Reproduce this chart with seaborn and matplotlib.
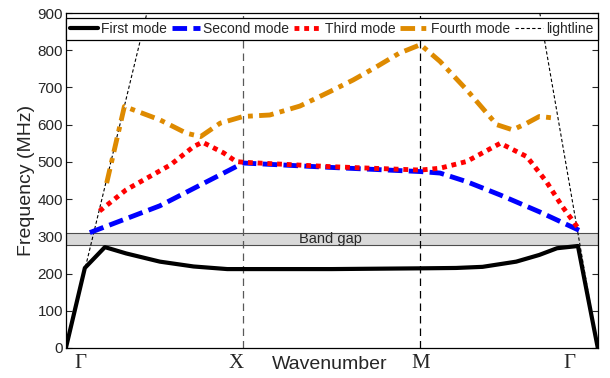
import numpy as np
import matplotlib
matplotlib.use("Agg")
import matplotlib.pyplot as plt
import seaborn as sns

# Dados (x: 0=Gamma, 1=X, 2=M, 3=Gamma)
x_primeiro = [0, 0.107, 0.22, 0.34, 0.53, 0.72, 0.91, 1.0, 1.25, 1.5, 1.75, 2.0, 2.2, 2.35, 2.54, 2.67, 2.77, 2.888, 3.0]
f_primeiro = [0, 215, 271, 254, 232, 219, 212, 212, 212, 212, 213, 214, 215, 218, 232, 250, 268, 274, 0]

x_segundo = [0.135, 0.53, 1.0, 1.5, 2.0, 2.11, 2.26, 2.45, 2.67, 2.9]
f_segundo = [310, 382, 497, 485, 474, 470, 447, 411, 366, 315]

x_terceiro = [0.19, 0.34, 0.59, 0.72, 0.77, 0.89, 0.96, 1.0, 1.5, 2.0, 2.11, 2.26, 2.45, 2.6, 2.71, 2.8, 2.9]
f_terceiro = [368, 425, 492, 541, 553, 524, 501, 499, 487, 478, 483, 501, 550, 514, 447, 380, 315]

x_quarto = [0.23, 0.33, 0.53, 0.68, 0.76, 0.87, 1.0, 1.15, 1.32, 1.49, 1.62, 1.75, 1.88, 2.0, 2.11, 2.26, 2.43, 2.52, 2.6, 2.67, 2.77]
f_quarto = [443, 649, 613, 577, 568, 604, 622, 626, 650, 689, 720, 755, 792, 815, 770, 694, 600, 586, 604, 622, 617]

# linhas de luz
x_luz_esq = [0, 0.457]
f_luz_esq = [0, 900]
x_luz_dir = [2.673, 3.0]
f_luz_dir = [900, 0]

band_gap = [276, 310]
pontos = ["\u0393", "X", "M", "\u0393"]
pos_pontos = [0.08, 0.96, 2.0, 2.84]

sns.set_style("ticks")
plt.rcParams["font.family"] = ["Liberation Sans", "DejaVu Sans"]

fig = plt.figure(figsize=(6.1, 3.78), dpi=100)
ax = fig.add_axes([0.108, 0.0794, 0.872, 0.8862])

# Faixa do band gap
ax.axhspan(band_gap[0], band_gap[1], facecolor="#d9d9d9", edgecolor="0.3", lw=0.8, zorder=1)
ax.text(1.49, sum(band_gap) / 2, "Band gap", ha="center", va="center", fontsize=10.5, zorder=2)

# Linhas verticais em X e M
ax.axvline(1, color="0.35", ls=(0, (6, 4)), lw=0.9, zorder=1)
ax.axvline(2, color="k", ls=(0, (6, 4)), lw=0.9, zorder=1)

sns.lineplot(x=x_primeiro, y=f_primeiro, ax=ax, sort=False, estimator=None, color="k", lw=3, label="First mode", zorder=3)
sns.lineplot(x=x_segundo, y=f_segundo, ax=ax, sort=False, estimator=None, color="#0000ff", lw=3.5,
             linestyle=(0, (3, 1.3)), label="Second mode", zorder=3)
sns.lineplot(x=x_terceiro, y=f_terceiro, ax=ax, sort=False, estimator=None, color="#ff0000", lw=3.5,
             linestyle=(0, (1, 1)), label="Third mode", zorder=4)
sns.lineplot(x=x_quarto, y=f_quarto, ax=ax, sort=False, estimator=None, color="#de8a00", lw=3.5,
             linestyle=(0, (3, 1.3, 1, 1.3)), label="Fourth mode", zorder=3)
sns.lineplot(x=x_luz_esq, y=f_luz_esq, ax=ax, sort=False, estimator=None, color="k", lw=0.8,
             linestyle=(0, (3, 2)), label="lightline", zorder=2)
sns.lineplot(x=x_luz_dir, y=f_luz_dir, ax=ax, sort=False, estimator=None, color="k", lw=0.8,
             linestyle=(0, (3, 2)), zorder=2)

ax.set_xlim(0, 3)
ax.set_ylim(0, 900)
ax.set_yticks(range(0, 901, 100))
ax.set_xticks([])
ax.tick_params(axis="y", direction="in", right=True, labelsize=11, length=4, pad=2)
for s in ax.spines.values():
    s.set_color("k")
    s.set_linewidth(0.9)
ax.set_ylabel("Frequency (MHz)", fontsize=14, labelpad=2)
ax.set_xlabel("")

# Rotulos dos pontos de simetria
for p, xp in zip(pontos, pos_pontos):
    ax.text(xp, -0.045, p, transform=ax.get_xaxis_transform(), ha="center", va="center",
            fontsize=15, family=["Liberation Serif", "DejaVu Serif"])
ax.text(1.49, -0.048, "Wavenumber", transform=ax.get_xaxis_transform(), ha="center", va="center", fontsize=14)

leg = ax.legend(loc="center", bbox_to_anchor=(0, 0.916, 1, 0.072), mode="expand", ncol=5, fontsize=10,
                frameon=True, fancybox=False, edgecolor="k", framealpha=1, handlelength=2.0,
                handletextpad=0.25, columnspacing=0.4, borderpad=0.3, borderaxespad=0)
leg.get_frame().set_linewidth(0.9)
leg.set_zorder(10)

fig.savefig("out.png", dpi=100)
